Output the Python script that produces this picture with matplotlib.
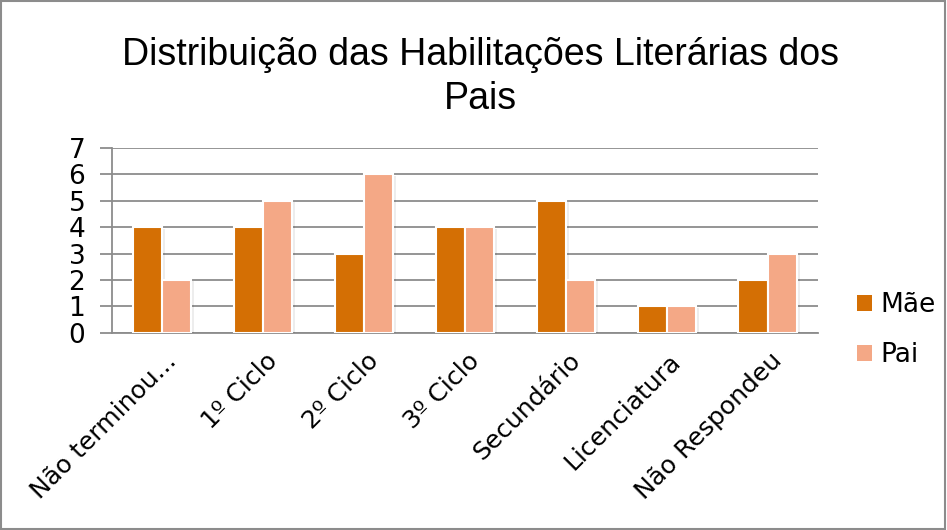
import matplotlib.pyplot as plt
import matplotlib.patheffects as pe
import matplotlib.transforms as mtransforms
import numpy as np

# data
categorias = ["Não terminou...", "1º Ciclo", "2º Ciclo", "3º Ciclo",
              "Secundário", "Licenciatura", "Não Respondeu"]
mae = [4, 4, 3, 4, 5, 1, 2]
pai = [2, 5, 6, 4, 2, 1, 3]
yticks = [0, 1, 2, 3, 4, 5, 6, 7]

cor_mae = "#D46F04"
cor_pai = "#F4A886"

fig = plt.figure(figsize=(9.47, 5.30), dpi=100)
ax = fig.add_axes([0.118, 0.372, 0.746, 0.349])

x = np.arange(len(categorias))
w = 0.29
sombra = [pe.SimplePatchShadow(offset=(2, -1), shadow_rgbFace="#000000", alpha=0.07), pe.Normal()]
b1 = ax.bar(x - w / 2, mae, w, color=cor_mae, edgecolor="white", linewidth=1.5,
            label="Mãe", zorder=3)
b2 = ax.bar(x + w / 2, pai, w, color=cor_pai, edgecolor="white", linewidth=1.5,
            label="Pai", zorder=3)
for b in list(b1) + list(b2):
    b.set_path_effects(sombra)

ax.set_xlim(-0.5, len(categorias) - 0.5)
ax.set_ylim(0, 7)
ax.set_yticks(yticks)
ax.set_yticklabels([str(v) for v in yticks], fontsize=19, family="DejaVu Sans")
ax.yaxis.grid(True, color="#8c8c8c", linewidth=1.3, zorder=0)
ax.set_axisbelow(True)
ax.tick_params(axis="y", length=9, color="#8c8c8c", width=1.3, pad=10)
ax.tick_params(axis="x", length=0)

for s in ["top", "right"]:
    ax.spines[s].set_visible(False)
ax.spines["left"].set_color("#8c8c8c")
ax.spines["left"].set_linewidth(1.3)
ax.spines["bottom"].set_color("#8c8c8c")
ax.spines["bottom"].set_linewidth(1.3)

ax.set_xticks(x)
off = mtransforms.ScaledTranslation(2 / 100, -11 / 100, fig.dpi_scale_trans)
ax.set_xticklabels(categorias, rotation=45, ha="right", va="top",
                   rotation_mode="anchor", fontsize=18, family="DejaVu Sans")
for lbl in ax.get_xticklabels():
    lbl.set_transform(lbl.get_transform() + off)

fig.text(0.507, 0.855, "Distribuição das Habilitações Literárias dos\nPais",
         ha="center", va="center", fontsize=27, family="Liberation Sans",
         linespacing=1.28)

leg = fig.legend(handles=[b1, b2], labels=["Mãe", "Pai"], loc="center left",
                 bbox_to_anchor=(0.88, 0.377), frameon=False,
                 handlelength=0.55, handleheight=0.55, handletextpad=0.35,
                 labelspacing=0.9, prop={"family": "DejaVu Sans", "size": 19})
for h in leg.legend_handles:
    h.set_path_effects([])
    h.set_edgecolor("none")

fig.patches.append(plt.Rectangle((0.001, 0.002), 0.997, 0.996, transform=fig.transFigure,
                                 fill=False, edgecolor="#8c8c8c", linewidth=1.5))

fig.savefig("out.png", dpi=100)
